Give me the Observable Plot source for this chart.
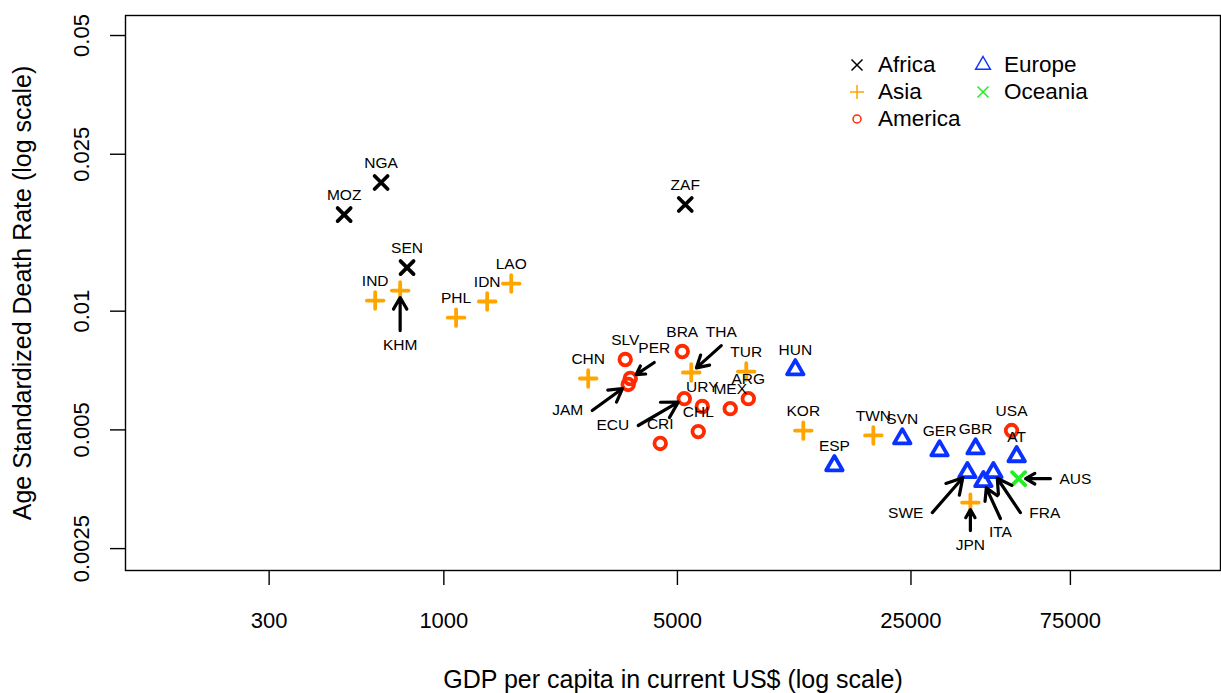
<!DOCTYPE html>
<html><head><meta charset="utf-8">
<script src="https://cdn.jsdelivr.net/npm/d3@7"></script>
<script src="https://cdn.jsdelivr.net/npm/@observablehq/plot@0.6"></script>
<style>
body{margin:0;background:#fff;font-family:"Liberation Sans",Arial,sans-serif;}
#wrap{position:relative;width:1221px;height:693px;}
#legend{position:absolute;left:848px;top:51px;display:grid;grid-template-columns:126px 126px;grid-template-rows:repeat(3,27px);grid-auto-flow:column;font-size:22.5px;color:#000;}
.item{display:flex;align-items:center;white-space:nowrap;}
.item svg{width:18px;height:18px;margin-right:12px;overflow:visible;flex:none}
</style></head><body><div id="wrap"></div>
<script>
// ---- data ----
const continents = ["Africa", "Asia", "America", "Europe", "Oceania"];
const continentColors = ["#000000", "#FFA500", "#FF2A00", "#0A32FF", "#22EE22"];

const codes = ["MOZ","NGA","SEN","ZAF",
  "IND","KHM","PHL","IDN","LAO","CHN","THA","TUR","KOR","TWN","JPN",
  "SLV","PER","JAM","BRA","ECU","URY","CHL","MEX","ARG","CRI","USA",
  "HUN","ESP","SVN","GER","GBR","AT","SWE","ITA","FRA",
  "AUS"];
const region = ["Africa","Africa","Africa","Africa",
  "Asia","Asia","Asia","Asia","Asia","Asia","Asia","Asia","Asia","Asia","Asia",
  "America","America","America","America","America","America","America","America","America","America","America",
  "Europe","Europe","Europe","Europe","Europe","Europe","Europe","Europe","Europe",
  "Oceania"];
const gdpPerCapita = [503, 649, 776, 5278,
  623, 740, 1088, 1348, 1591, 2704, 5500, 8036, 11906, 19290, 37650,
  3490, 3613, 3562, 5170, 5242, 5935, 5773, 7196, 8150, 4442, 50000,
  11266, 14750, 23550, 30440, 39020, 51780, 36880, 41180, 44120,
  52500];
const deathRate = [0.01758, 0.0212, 0.0129, 0.01864,
  0.01064, 0.01128, 0.00963, 0.01058, 0.01175, 0.00675, 0.00699, 0.00703, 0.00498, 0.00484, 0.00327,
  0.00754, 0.00675, 0.00652, 0.0079, 0.0060, 0.00573, 0.00495, 0.00566, 0.0060, 0.00462, 0.00498,
  0.00711, 0.00406, 0.00475, 0.00443, 0.00448, 0.00428, 0.0039, 0.0037, 0.0039,
  0.00376];

// labels placed away from their point, with an arrow (tail in data units)
const arrowCodes = ["KHM","PER","THA","JAM","ECU","SWE","JPN","ITA","FRA","AUS"];
const arrowTailGdp = [740, 4263, 6764, 2780, 3817, 28970, 37650, 46300, 53130, 65350];
const arrowTailRate = [0.00893, 0.00741, 0.00818, 0.0056, 0.00513, 0.003085, 0.002778, 0.00298, 0.003085, 0.00376];
const arrowLabelSide = ["below","above","above","left","left","left","below","below","right","right"];

const xTicks = [300, 1000, 5000, 25000, 75000];
const yTicks = [0.0025, 0.005, 0.01, 0.025, 0.05];
const xTitle = "GDP per capita in current US$ (log scale)";
const yTitle = "Age Standardized Death Rate (log scale)";

// ---- build tables ----
const points = codes.map((c, i) => ({code: c, continent: region[i], gdp: gdpPerCapita[i], rate: deathRate[i]}));
const byCode = new Map(points.map(d => [d.code, d]));
const arrows = arrowCodes.map((c, i) => ({code: c, x1: arrowTailGdp[i], y1: arrowTailRate[i], x2: byCode.get(c).gdp, y2: byCode.get(c).rate, side: arrowLabelSide[i]}));
const plainLabels = points.filter(d => !arrowCodes.includes(d.code));

// ---- symbols (R pch 4, 3, 1, 2) ----
const rad = s => Math.sqrt(s / Math.PI);
const symTimes = {draw(ctx, s){const h = rad(s); ctx.moveTo(-h,-h); ctx.lineTo(h,h); ctx.moveTo(-h,h); ctx.lineTo(h,-h);}};
const symPlus = {draw(ctx, s){const h = rad(s); ctx.moveTo(-h,0); ctx.lineTo(h,0); ctx.moveTo(0,-h); ctx.lineTo(0,h);}};
const symCircle = {draw(ctx, s){const h = rad(s); ctx.moveTo(h,0); ctx.arc(0,0,h,0,2*Math.PI);}};
const symTriangle = {draw(ctx, s){const h = rad(s); ctx.moveTo(0,-h); ctx.lineTo(h*0.866,h/2); ctx.lineTo(-h*0.866,h/2); ctx.closePath();}};
const symbolOf = {Africa: [symTimes, 6.5], Asia: [symPlus, 8.3], America: [symCircle, 5.8], Europe: [symTriangle, 9.5], Oceania: [symTimes, 6.5]};

const dotMarks = continents.map((c, i) => Plot.dot(points.filter(d => d.continent === c), {
  x: "gdp", y: "rate", symbol: symbolOf[c][0], r: symbolOf[c][1],
  fill: "none", stroke: continentColors[i], strokeWidth: 3.8, strokeLinecap: "round", strokeLinejoin: "round"
}));

const labelFont = 15.5;
const chart = Plot.plot({
  width: 1221, height: 693,
  marginLeft: 125, marginRight: 1, marginTop: 15, marginBottom: 123,
  x: {type: "log", domain: [111.5, 211000]},
  y: {type: "log", domain: [0.0022, 0.0562]},
  style: {fontFamily: '"Liberation Sans", Arial, sans-serif', background: "white", color: "black"},
  marks: [
    Plot.frame({stroke: "black", strokeWidth: 1.4}),
    Plot.axisX({ticks: xTicks, tickSize: 15, tickFormat: () => "", label: null, strokeWidth: 1.4}),
    Plot.text(xTicks, {x: d => d, frameAnchor: "bottom", dy: 50, lineAnchor: "middle", textAnchor: "middle", text: d => String(d), fontSize: 22}),
    Plot.axisY({ticks: yTicks, tickSize: 15, tickFormat: () => "", label: null, strokeWidth: 1.4}),
    Plot.text(yTicks, {y: d => d, frameAnchor: "left", dx: -44, rotate: -90, lineAnchor: "middle", textAnchor: "middle", text: d => String(d), fontSize: 22}),
    Plot.text([xTitle], {frameAnchor: "bottom", dy: 109, lineAnchor: "middle", textAnchor: "middle", fontSize: 25}),
    Plot.text([yTitle], {frameAnchor: "left", dx: -103, rotate: -90, lineAnchor: "middle", textAnchor: "middle", fontSize: 25}),
    ...dotMarks,
    Plot.text(plainLabels, {x: "gdp", y: "rate", text: "code", dy: -19.5, fontSize: labelFont}),
    Plot.text(arrows.filter(d => d.side === "above"), {x: "x1", y: "y1", text: "code", dy: -14, fontSize: labelFont}),
    Plot.text(arrows.filter(d => d.side === "below"), {x: "x1", y: "y1", text: "code", dy: 14, fontSize: labelFont}),
    Plot.text(arrows.filter(d => d.side === "left"), {x: "x1", y: "y1", text: "code", dx: -9, textAnchor: "end", fontSize: labelFont}),
    Plot.text(arrows.filter(d => d.side === "right"), {x: "x1", y: "y1", text: "code", dx: 9, textAnchor: "start", fontSize: labelFont}),
    Plot.arrow(arrows, {x1: "x1", y1: "y1", x2: "x2", y2: "y2", insetEnd: 7, headLength: 12, headAngle: 60, stroke: "black", strokeWidth: 3.2})
  ]
});
const wrap = document.getElementById("wrap");
wrap.appendChild(chart);

// ---- legend (inside plot, top right) ----
const legendPaths = {
  Africa: "M-5.5,-5.5L5.5,5.5M-5.5,5.5L5.5,-5.5",
  Asia: "M-7,0L7,0M0,-7L0,7",
  America: "M4,0A4,4 0 1 1 -4,0A4,4 0 1 1 4,0",
  Europe: "M0,-8.5L7.36,4.25L-7.36,4.25Z",
  Oceania: "M-5.5,-5.5L5.5,5.5M-5.5,5.5L5.5,-5.5"
};
const legend = document.createElement("div");
legend.id = "legend";
continents.forEach((c, i) => {
  const item = document.createElement("div");
  item.className = "item";
  item.innerHTML = `<svg viewBox="-9 -9 18 18"><path d="${legendPaths[c]}" fill="none" stroke="${continentColors[i]}" stroke-width="1.5"/></svg><span>${c}</span>`;
  legend.appendChild(item);
});
wrap.appendChild(legend);
</script></body></html>
